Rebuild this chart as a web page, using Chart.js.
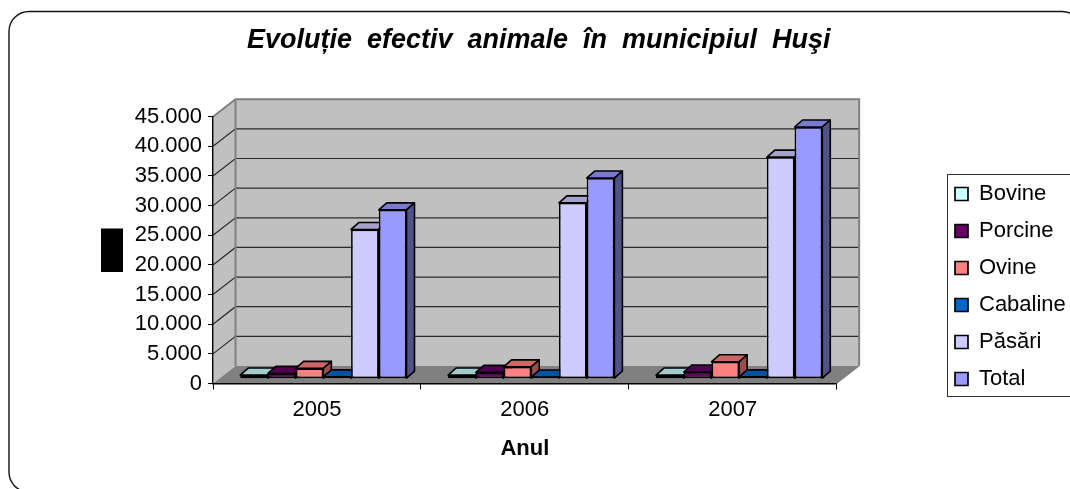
<!DOCTYPE html>
<html><head><meta charset="utf-8">
<script src="https://cdn.jsdelivr.net/npm/chart.js@4"></script>
<style>html,body{margin:0;padding:0;background:#fff;overflow:hidden}canvas{display:block}</style>
</head><body><canvas id="c" width="1070" height="489"></canvas>
<script>
const categories = ['2005','2006','2007'];
const bovine   = [620, 620, 620];
const porcine  = [900, 1070, 1120];
const ovine    = [1745, 2000, 2850];
const cabaline = [300, 280, 300];
const pasari   = [25170, 29650, 37370];
const total    = [28470, 33840, 42450];
const seriesNames = ['Bovine','Porcine','Ovine','Cabaline','Păsări','Total'];
const seriesData = [bovine,porcine,ovine,cabaline,pasari,total];
const frontColors = ['#CCFFFF','#660066','#FF8080','#0066CC','#CCCCFF','#9999FF'];
const topColors   = ['#A3CCCC','#520052','#CC6666','#0052A3','#A3A3CC','#7A7ACC'];
const sideColors  = ['#7A9999','#3D003D','#994D4D','#003D7A','#7A7A99','#52528A'];
const chartTitle = 'Evoluție  efectiv  animale  în  municipiul  Huşi';
const xTitle = 'Anul';

const WALL = {dx:22.5, dy:-17.5};
const BAR_SHIFT = {dx:6.4, dy:-4.8};
const BAR_DEPTH = {dx:8, dy:-7};

function poly(ctx, pts, fill, stroke, lw){
  ctx.beginPath();
  pts.forEach((p,i)=> i?ctx.lineTo(p[0],p[1]):ctx.moveTo(p[0],p[1]));
  ctx.closePath();
  if(fill){ctx.fillStyle=fill;ctx.fill();}
  if(stroke){ctx.strokeStyle=stroke;ctx.lineWidth=lw;ctx.lineJoin='round';ctx.stroke();}
}
const scene = {
  id:'scene',
  afterLayout(chart){
    const lg=chart.legend;
    const w=lg.width;
    lg.left=955-lg.options.labels.padding; lg.right=lg.left+w;
    const shift=286.5-(lg.top+lg.bottom)/2;
    lg.top+=shift; lg.bottom+=shift;
  },
  beforeDraw(chart){
    const {ctx,chartArea:a,scales:{y}} = chart;
    const {dx,dy} = WALL;
    ctx.save();
    ctx.fillStyle='#fff';ctx.fillRect(0,0,chart.width,chart.height);
    // outer rounded frame
    ctx.beginPath();ctx.roundRect(9,11.5,1073,480.5,20);
    ctx.strokeStyle='#111';ctx.lineWidth=1.4;ctx.stroke();
    // black block left of the value axis
    ctx.fillStyle='#000';ctx.fillRect(101,228.5,22,43.5);
    // legend frame
    ctx.strokeStyle='#333';ctx.lineWidth=1;ctx.strokeRect(947.5,174.5,140,222);
    // walls
    const T=a.top,B=a.bottom,L=a.left,R=a.right;
    poly(ctx,[[L,T],[L+dx,T+dy],[L+dx,B+dy],[L,B]],'#C0C0C0');
    poly(ctx,[[L+dx,T+dy],[R+dx,T+dy],[R+dx,B+dy],[L+dx,B+dy]],'#C0C0C0');
    poly(ctx,[[L,B],[R,B],[R+dx,B+dy],[L+dx,B+dy]],'#808080');
    // grid
    ctx.strokeStyle='#2a2a2a';ctx.lineWidth=1.2;
    y.ticks.forEach(t=>{
      if(t.value===0||t.value===y.max) return;
      const py=y.getPixelForValue(t.value);
      ctx.beginPath();ctx.moveTo(L,py);ctx.lineTo(L+dx,py+dy);ctx.lineTo(R+dx,py+dy);ctx.stroke();
    });
    // wall edges
    ctx.strokeStyle='#808080';ctx.lineWidth=2;
    ctx.beginPath();ctx.moveTo(L,T);ctx.lineTo(L+dx,T+dy);ctx.lineTo(R+dx,T+dy);ctx.lineTo(R+dx,B+dy);ctx.stroke();
    ctx.beginPath();ctx.moveTo(L+dx,T+dy);ctx.lineTo(L+dx,B+dy);ctx.stroke();
    ctx.lineWidth=1;
    ctx.beginPath();ctx.moveTo(R,B);ctx.lineTo(R+dx,B+dy);ctx.stroke();
    ctx.restore();
  },
  beforeDatasetsDraw(chart){
    const ctx=chart.ctx;
    ctx.save();
    ctx.translate(BAR_SHIFT.dx,BAR_SHIFT.dy);
    const {dx,dy}=BAR_DEPTH;
    const n=chart.data.labels.length;
    for(let c=0;c<n;c++){
      chart.data.datasets.forEach((ds,i)=>{
        const el=chart.getDatasetMeta(i).data[c];
        const l=el.x-el.width/2,r=el.x+el.width/2,t=el.y,b=el.base;
        poly(ctx,[[l,t],[r,t],[r+dx,t+dy],[l+dx,t+dy]],topColors[i],'#000',1.6);
        poly(ctx,[[r,t],[r+dx,t+dy],[r+dx,b+dy],[r,b]],sideColors[i],'#000',1.6);
      });
    }
  },
  afterDatasetsDraw(chart){ chart.ctx.restore(); }
};

new Chart(document.getElementById('c'),{
  type:'bar',
  data:{labels:categories,datasets:seriesNames.map((n,i)=>({
    label:n,data:seriesData[i],backgroundColor:frontColors[i],borderColor:'#000',borderWidth:1.7,borderSkipped:false,clip:false
  }))},
  plugins:[scene],
  options:{
    responsive:false,animation:false,
    categoryPercentage:0.8,barPercentage:1,
    layout:{padding:{left:105,right:97.5,top:10,bottom:26.5}},
    plugins:{
      tooltip:{enabled:false},
      title:{display:true,text:chartTitle,color:'#000',font:{family:'"Liberation Sans"',size:27,weight:'bold',style:'italic'},padding:{top:14.8,bottom:59.5}},
      legend:{position:'right',labels:{color:'#000',font:{family:'"Liberation Sans"',size:22},boxWidth:13,boxHeight:13,padding:15}}
    },
    scales:{
      x:{
        grid:{offset:true,drawOnChartArea:false,color:'#000',tickLength:6},
        border:{color:'#000',width:1.4},
        ticks:{color:'#000',font:{family:'"Liberation Sans"',size:22},padding:7},
        title:{display:true,text:xTitle,color:'#000',font:{family:'"Liberation Sans"',size:22,weight:'bold'},padding:{top:10,bottom:0}},
        afterFit(s){s.height=79;}
      },
      y:{
        min:0,max:45000,
        grid:{drawOnChartArea:false,color:'#000',tickLength:5},
        border:{color:'#000',width:1.4},
        ticks:{stepSize:5000,color:'#000',font:{family:'"Liberation Sans"',size:22},padding:6,
          callback:v=>String(v).replace(/\B(?=(\d{3})+$)/g,'.')},
        afterFit(s){s.width=108;}
      }
    }
  }
});
</script></body></html>
